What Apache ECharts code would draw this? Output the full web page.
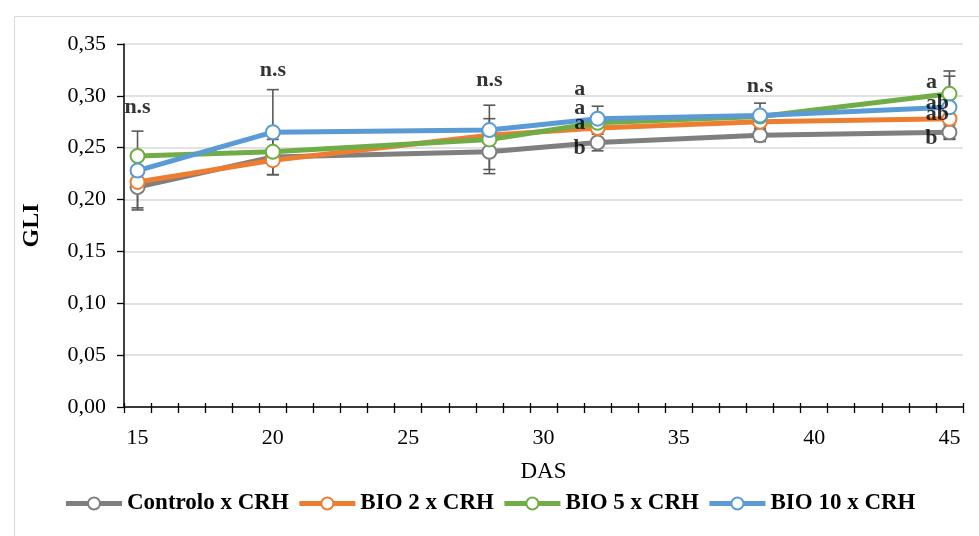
<!DOCTYPE html>
<html>
<head>
<meta charset="utf-8">
<script src="https://cdn.jsdelivr.net/npm/echarts@6/dist/echarts.min.js"></script>
<style>
html,body{margin:0;padding:0;background:#fff;}
#c{width:979px;height:536px;}
</style>
</head>
<body>
<div id="c"></div>
<script>
// ---- data ----
var days = [15, 20, 28, 32, 38, 45];
var seriesNames = ['Controlo x CRH', 'BIO 2 x CRH', 'BIO 5 x CRH', 'BIO 10 x CRH'];
var controlo = [0.212, 0.241, 0.246, 0.255, 0.262, 0.265];
var bio2 = [0.217, 0.238, 0.262, 0.269, 0.275, 0.278];
var bio5 = [0.242, 0.246, 0.258, 0.274, 0.280, 0.302];
var bio10 = [0.228, 0.265, 0.267, 0.278, 0.281, 0.289];
var errControlo = [0.020, 0.017, 0.017, 0.008, 0.006, 0.007];
var errBio2 = [0, 0, 0, 0, 0, 0];
var errBio5 = [0, 0, 0.033, 0, 0, 0.022];
var errBio10 = [0.038, 0.041, 0.011, 0.012, 0.012, 0.030];
var annotText = ['n.s', 'n.s', 'n.s', 'a', 'a', 'a', 'b', 'n.s', 'a', 'ab', 'ab', 'b'];
var annotDay = [15, 20, 28, 32, 32, 32, 32, 38, 45, 45, 45, 45];
var annotY = [0.289, 0.325, 0.315, 0.306, 0.288, 0.274, 0.249, 0.309, 0.313, 0.293, 0.282, 0.259];
var yTicks = [0, 0.05, 0.10, 0.15, 0.20, 0.25, 0.30, 0.35];

// ---- build ----
var colors = ['#7f7f7f', '#ed7d31', '#70ad47', '#5b9bd5'];
var allVals = [controlo, bio2, bio5, bio10];
var allErr = [errControlo, errBio2, errBio5, errBio10];
var cats = [];
for (var d = days[0]; d <= days[days.length - 1]; d++) cats.push(String(d));
var FONT = '"Liberation Serif", "Times New Roman", serif';

var series = [];
var errData = [];
allVals.forEach(function (vals, s) {
  vals.forEach(function (v, i) {
    var e = allErr[s][i];
    if (e > 0) errData.push([cats.indexOf(String(days[i])), v - e, v + e]);
  });
});
series.push({
  type: 'custom',
  z: 1,
  silent: true,
  data: errData,
  renderItem: function (params, api) {
    var x = api.value(0);
    var lo = api.coord([x, api.value(1)]);
    var hi = api.coord([x, api.value(2)]);
    var w = 6;
    var st = {stroke: '#595959', lineWidth: 1.6};
    return {
      type: 'group',
      children: [
        {type: 'line', shape: {x1: lo[0], y1: lo[1], x2: hi[0], y2: hi[1]}, style: st},
        {type: 'line', shape: {x1: lo[0] - w, y1: lo[1], x2: lo[0] + w, y2: lo[1]}, style: st},
        {type: 'line', shape: {x1: hi[0] - w, y1: hi[1], x2: hi[0] + w, y2: hi[1]}, style: st}
      ]
    };
  }
});
allVals.forEach(function (vals, s) {
  series.push({
    name: seriesNames[s],
    type: 'line',
    z: 2 + s,
    connectNulls: true,
    symbol: 'circle',
    symbolSize: 14,
    showAllSymbol: true,
    data: vals.map(function (v, i) { return [String(days[i]), v]; }),
    lineStyle: {color: colors[s], width: 5},
    itemStyle: {color: '#ffffff', borderColor: colors[s], borderWidth: 2},
    emphasis: {disabled: true}
  });
});
series.push({
  type: 'scatter',
  z: 10,
  silent: true,
  symbolSize: 0,
  data: annotText.map(function (t, i) { return {value: [String(annotDay[i]), annotY[i]], name: t}; }),
  label: {
    show: true,
    position: 'inside',
    formatter: function (p) { return p.name; },
    color: '#000',
    fontFamily: FONT,
    fontWeight: 'bold',
    fontSize: 22
  },
  labelLayout: function (p) {
    var t = annotText[p.dataIndex];
    if (t === 'n.s') return {};
    return {dx: t.length === 1 ? -18 : -12};
  }
});

var chart = echarts.init(document.getElementById('c'), null, {renderer: 'canvas'});
chart.setOption({
  animation: false,
  backgroundColor: '#ffffff',
  graphic: [{
    type: 'rect', left: 12, top: 14, z: -10,
    shape: {width: 1000, height: 560},
    style: {fill: 'none', stroke: '#d9d9d9', lineWidth: 1}
  }],
  grid: {left: 124, right: 16, top: 44, bottom: 129},
  legend: {
    bottom: 16,
    left: 'center',
    itemWidth: 56,
    itemHeight: 15,
    itemGap: 8,
    data: seriesNames,
    lineStyle: {width: 5},
    textStyle: {fontFamily: FONT, fontWeight: 'bold', fontSize: 23, color: '#000'}
  },
  xAxis: [{
    type: 'category',
    data: cats,
    boundaryGap: true,
    name: 'DAS',
    nameLocation: 'middle',
    nameGap: 53,
    nameTextStyle: {fontFamily: FONT, fontSize: 23, color: '#000'},
    axisLine: {lineStyle: {color: '#000', width: 1.5}},
    axisTick: {show: true, interval: 0, length: 6, lineStyle: {color: '#000', width: 1.3}},
    axisLabel: {interval: 4, margin: 20, fontFamily: FONT, fontSize: 22, color: '#000'},
    splitLine: {show: false}
  }, {
    type: 'category',
    data: cats,
    position: 'bottom',
    boundaryGap: true,
    axisLine: {show: false},
    axisTick: {show: true, inside: true, interval: 0, length: 4, lineStyle: {color: '#000', width: 1.3}},
    axisLabel: {show: false},
    splitLine: {show: false}
  }],
  yAxis: {
    type: 'value',
    min: yTicks[0],
    max: yTicks[yTicks.length - 1],
    interval: 0.05,
    name: 'GLI',
    nameLocation: 'middle',
    nameGap: 80,
    nameTextStyle: {fontFamily: FONT, fontSize: 24, fontWeight: 'bold', color: '#000'},
    axisLine: {show: true, lineStyle: {color: '#000', width: 1.5}},
    axisTick: {show: true, length: 7, lineStyle: {color: '#000', width: 1.3}},
    axisLabel: {
      margin: 18,
      fontFamily: FONT, fontSize: 22, color: '#000',
      formatter: function (v) { return v.toFixed(2).replace('.', ','); }
    },
    splitLine: {lineStyle: {color: '#d9d9d9', width: 1.5}}
  },
  series: series
});
</script>
</body>
</html>
